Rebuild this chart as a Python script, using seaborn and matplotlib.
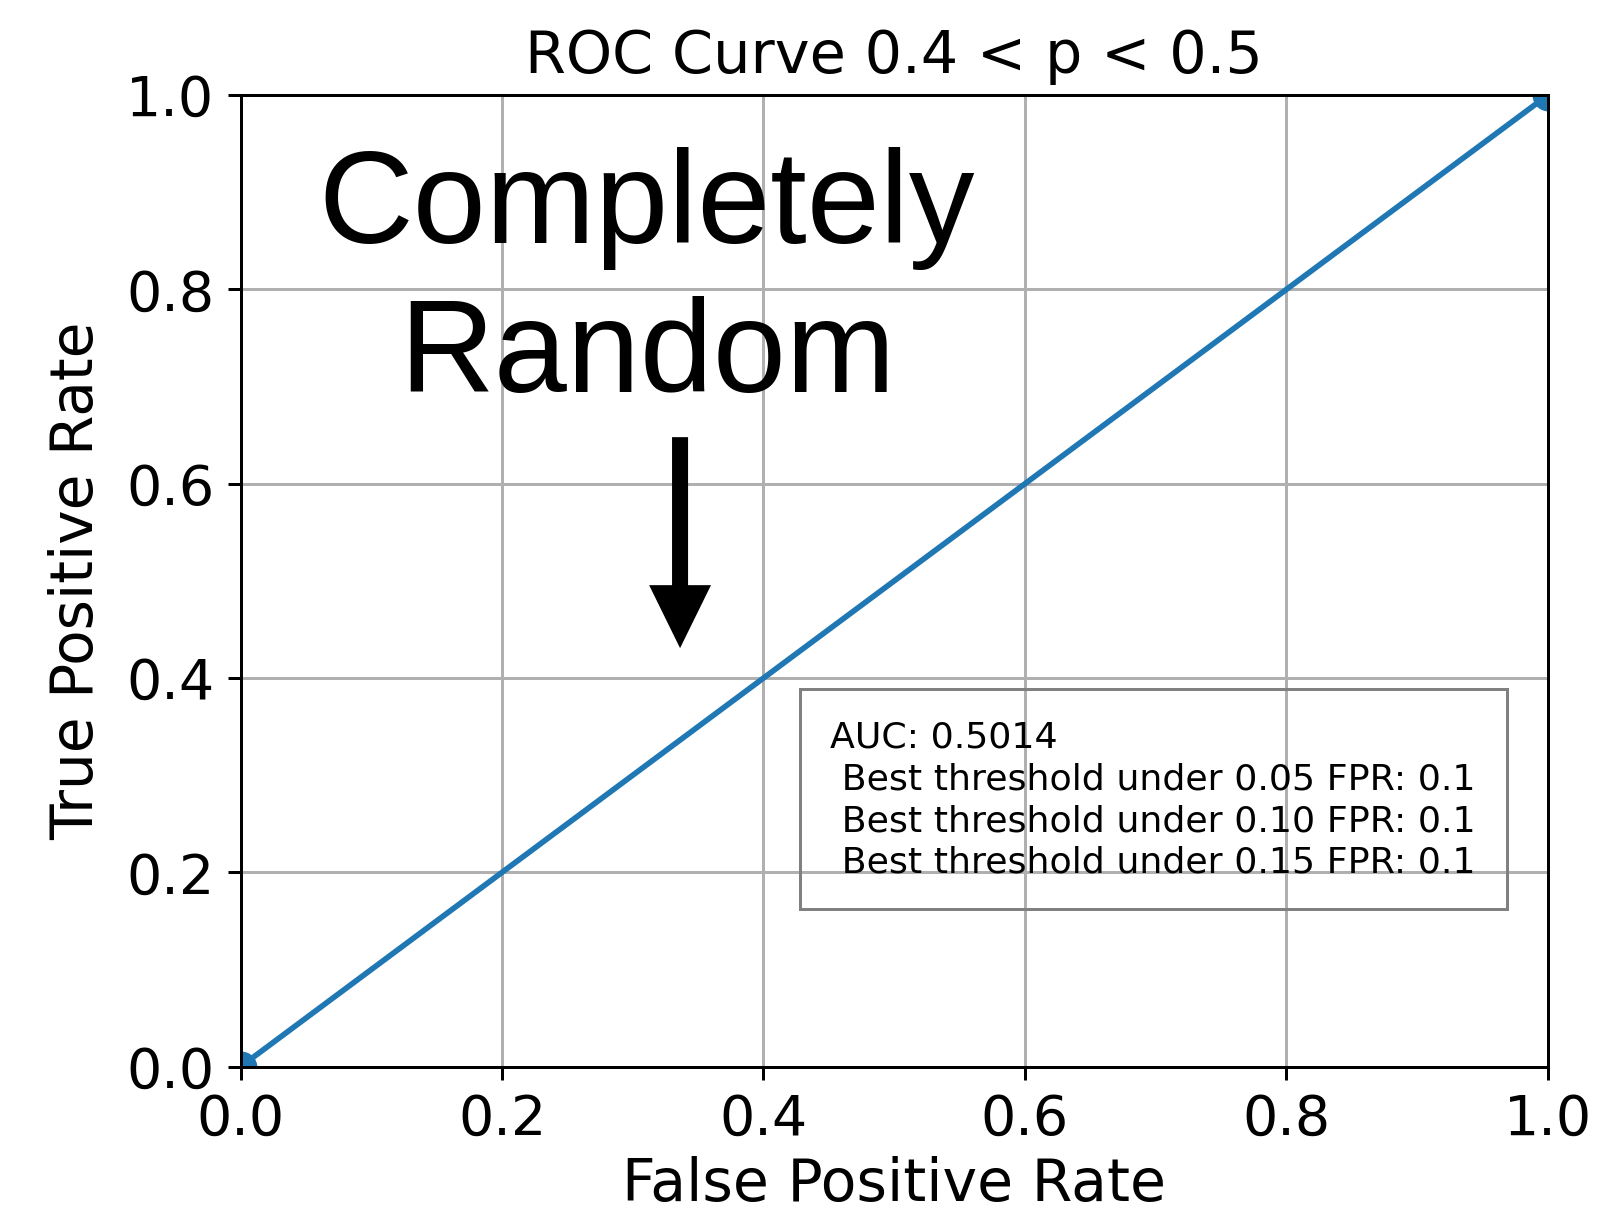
import matplotlib
matplotlib.use("Agg")
import matplotlib.pyplot as plt
import seaborn as sns

# ROC points
fpr = [0.0, 1.0]
tpr = [0.0, 1.0]
auc_score = 0.5014
fpr_limits = ["0.05", "0.10", "0.15"]
best_thresholds = [0.1, 0.1, 0.1]
ticks = [0.0, 0.2, 0.4, 0.6, 0.8, 1.0]

fig = plt.figure(figsize=(1619 / 270, 1205 / 270), dpi=270)
ax = fig.add_axes([0.1486, 0.1148, 0.956 - 0.1486, 0.921 - 0.1148])

sns.lineplot(x=fpr, y=tpr, marker="o", markersize=8.5, markeredgewidth=0,
             color="#1f77b4", linewidth=1.5, ax=ax)
ax.set_xlim(0, 1)
ax.set_ylim(0, 1)
ax.set_xticks(ticks)
ax.set_yticks(ticks)
ax.tick_params(labelsize=14.8)
ax.grid(True, color="#b0b0b0", linewidth=0.8)
ax.set_axisbelow(True)

ax.set_title("ROC Curve 0.4 < p < 0.5", fontsize=15.7)
ax.set_xlabel("False Positive Rate", fontsize=15.6, labelpad=2.5)
ax.set_ylabel("True Positive Rate", fontsize=15.5, labelpad=5.5)

# stats box (va=baseline pins the last line)
lines = [f"AUC: {auc_score}"]
for lim, thr in zip(fpr_limits, best_thresholds):
    lines.append(f" Best threshold under {lim} FPR: {thr}")
ax.text(0.451, 0.1998, "\n".join(lines), transform=ax.transAxes,
        fontsize=9.7, va="baseline", ha="left", linespacing=1.28)
ax.add_patch(plt.Rectangle((0.428, 0.162), 0.541, 0.2266, transform=ax.transAxes,
                           fill=False, edgecolor="0.5", linewidth=0.8))

# annotation
ax.text(0.311, 0.6943, "Completely\nRandom", transform=ax.transAxes,
        fontsize=35, family=["Liberation Sans", "DejaVu Sans"],
        ha="center", va="baseline", multialignment="center", linespacing=1.27)
ax.annotate("", xy=(0.3362, 0.4308), xytext=(0.3362, 0.648),
            xycoords="axes fraction", textcoords="axes fraction",
            arrowprops=dict(facecolor="black", edgecolor="none", width=4.27,
                            headwidth=16.5, headlength=16.8, shrink=0))

fig.savefig("out.png", dpi=270)
